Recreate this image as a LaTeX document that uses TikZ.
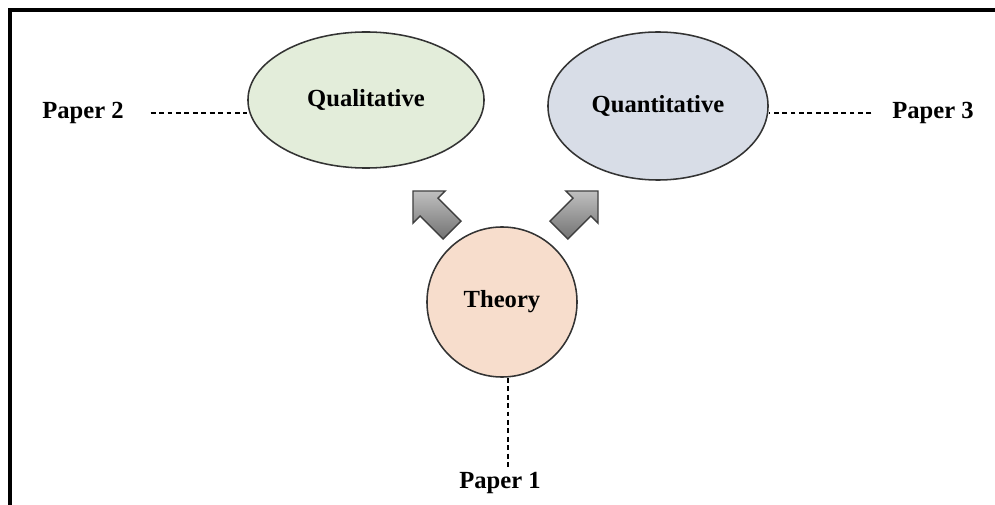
\documentclass[tikz,border=0pt]{standalone}
\usepackage{fontspec}
\setmainfont{Liberation Serif}
\usetikzlibrary{shapes.geometric, shapes.arrows}

\definecolor{qualfill}{HTML}{E3EDDA}
\definecolor{quantfill}{HTML}{D8DDE7}
\definecolor{theofill}{HTML}{F7DDCC}

\begin{document}
\begin{tikzpicture}[
  x=0.025cm, y=-0.025cm,
  bubble/.style={
    ellipse, draw=black!80, line width=1.1pt,
    font=\fontsize{17.5}{20}\selectfont\bfseries
  },
  label/.style={font=\fontsize{17.5}{20}\selectfont\bfseries},
  link/.style={dashed, dash pattern=on 3.5pt off 2.5pt, line width=0.8pt},
  push/.style={
    single arrow, draw=black!75, line width=1pt,
    top color=black!25, bottom color=black!55,
    inner xsep=0pt, inner ysep=0.3cm, minimum height=1.38cm,
    minimum width=1.1cm, single arrow head extend=0.25cm
  }
]
  \useasboundingbox (0,0) rectangle (995,505);
  \draw[line width=3pt] (10,520) -- (10,10) -- (1010,10);

  \node[bubble, fill=qualfill, minimum width=5.9cm, minimum height=3.4cm]
    (qual) at (366,100) {Qualitative};
  \node[bubble, fill=quantfill, minimum width=5.5cm, minimum height=3.7cm]
    (quant) at (658,106) {Quantitative};
  \node[bubble, circle, fill=theofill, minimum size=3.75cm]
    (theory) at (502,302) {Theory};

  \node[push, rotate=135] (upleft) at (437,215) {};
  \node[push, rotate=45] (upright) at (574,215) {};

  \node[label] (papertwo) at (83,113) {Paper 2};
  \node[label] (paperthree) at (933,113) {Paper 3};
  \node[label] (paperone) at (500,483) {Paper 1};

  \draw[link] ([xshift=0.55cm]papertwo.east) -- (papertwo -| qual.west);
  \draw[link] ([xshift=-0.4cm]paperthree.west) -- (paperthree -| quant.east);
  \draw[link] ([xshift=0.15cm]theory.south) -- ([xshift=0.15cm]theory.south |- paperone.north);
\end{tikzpicture}
\end{document}
